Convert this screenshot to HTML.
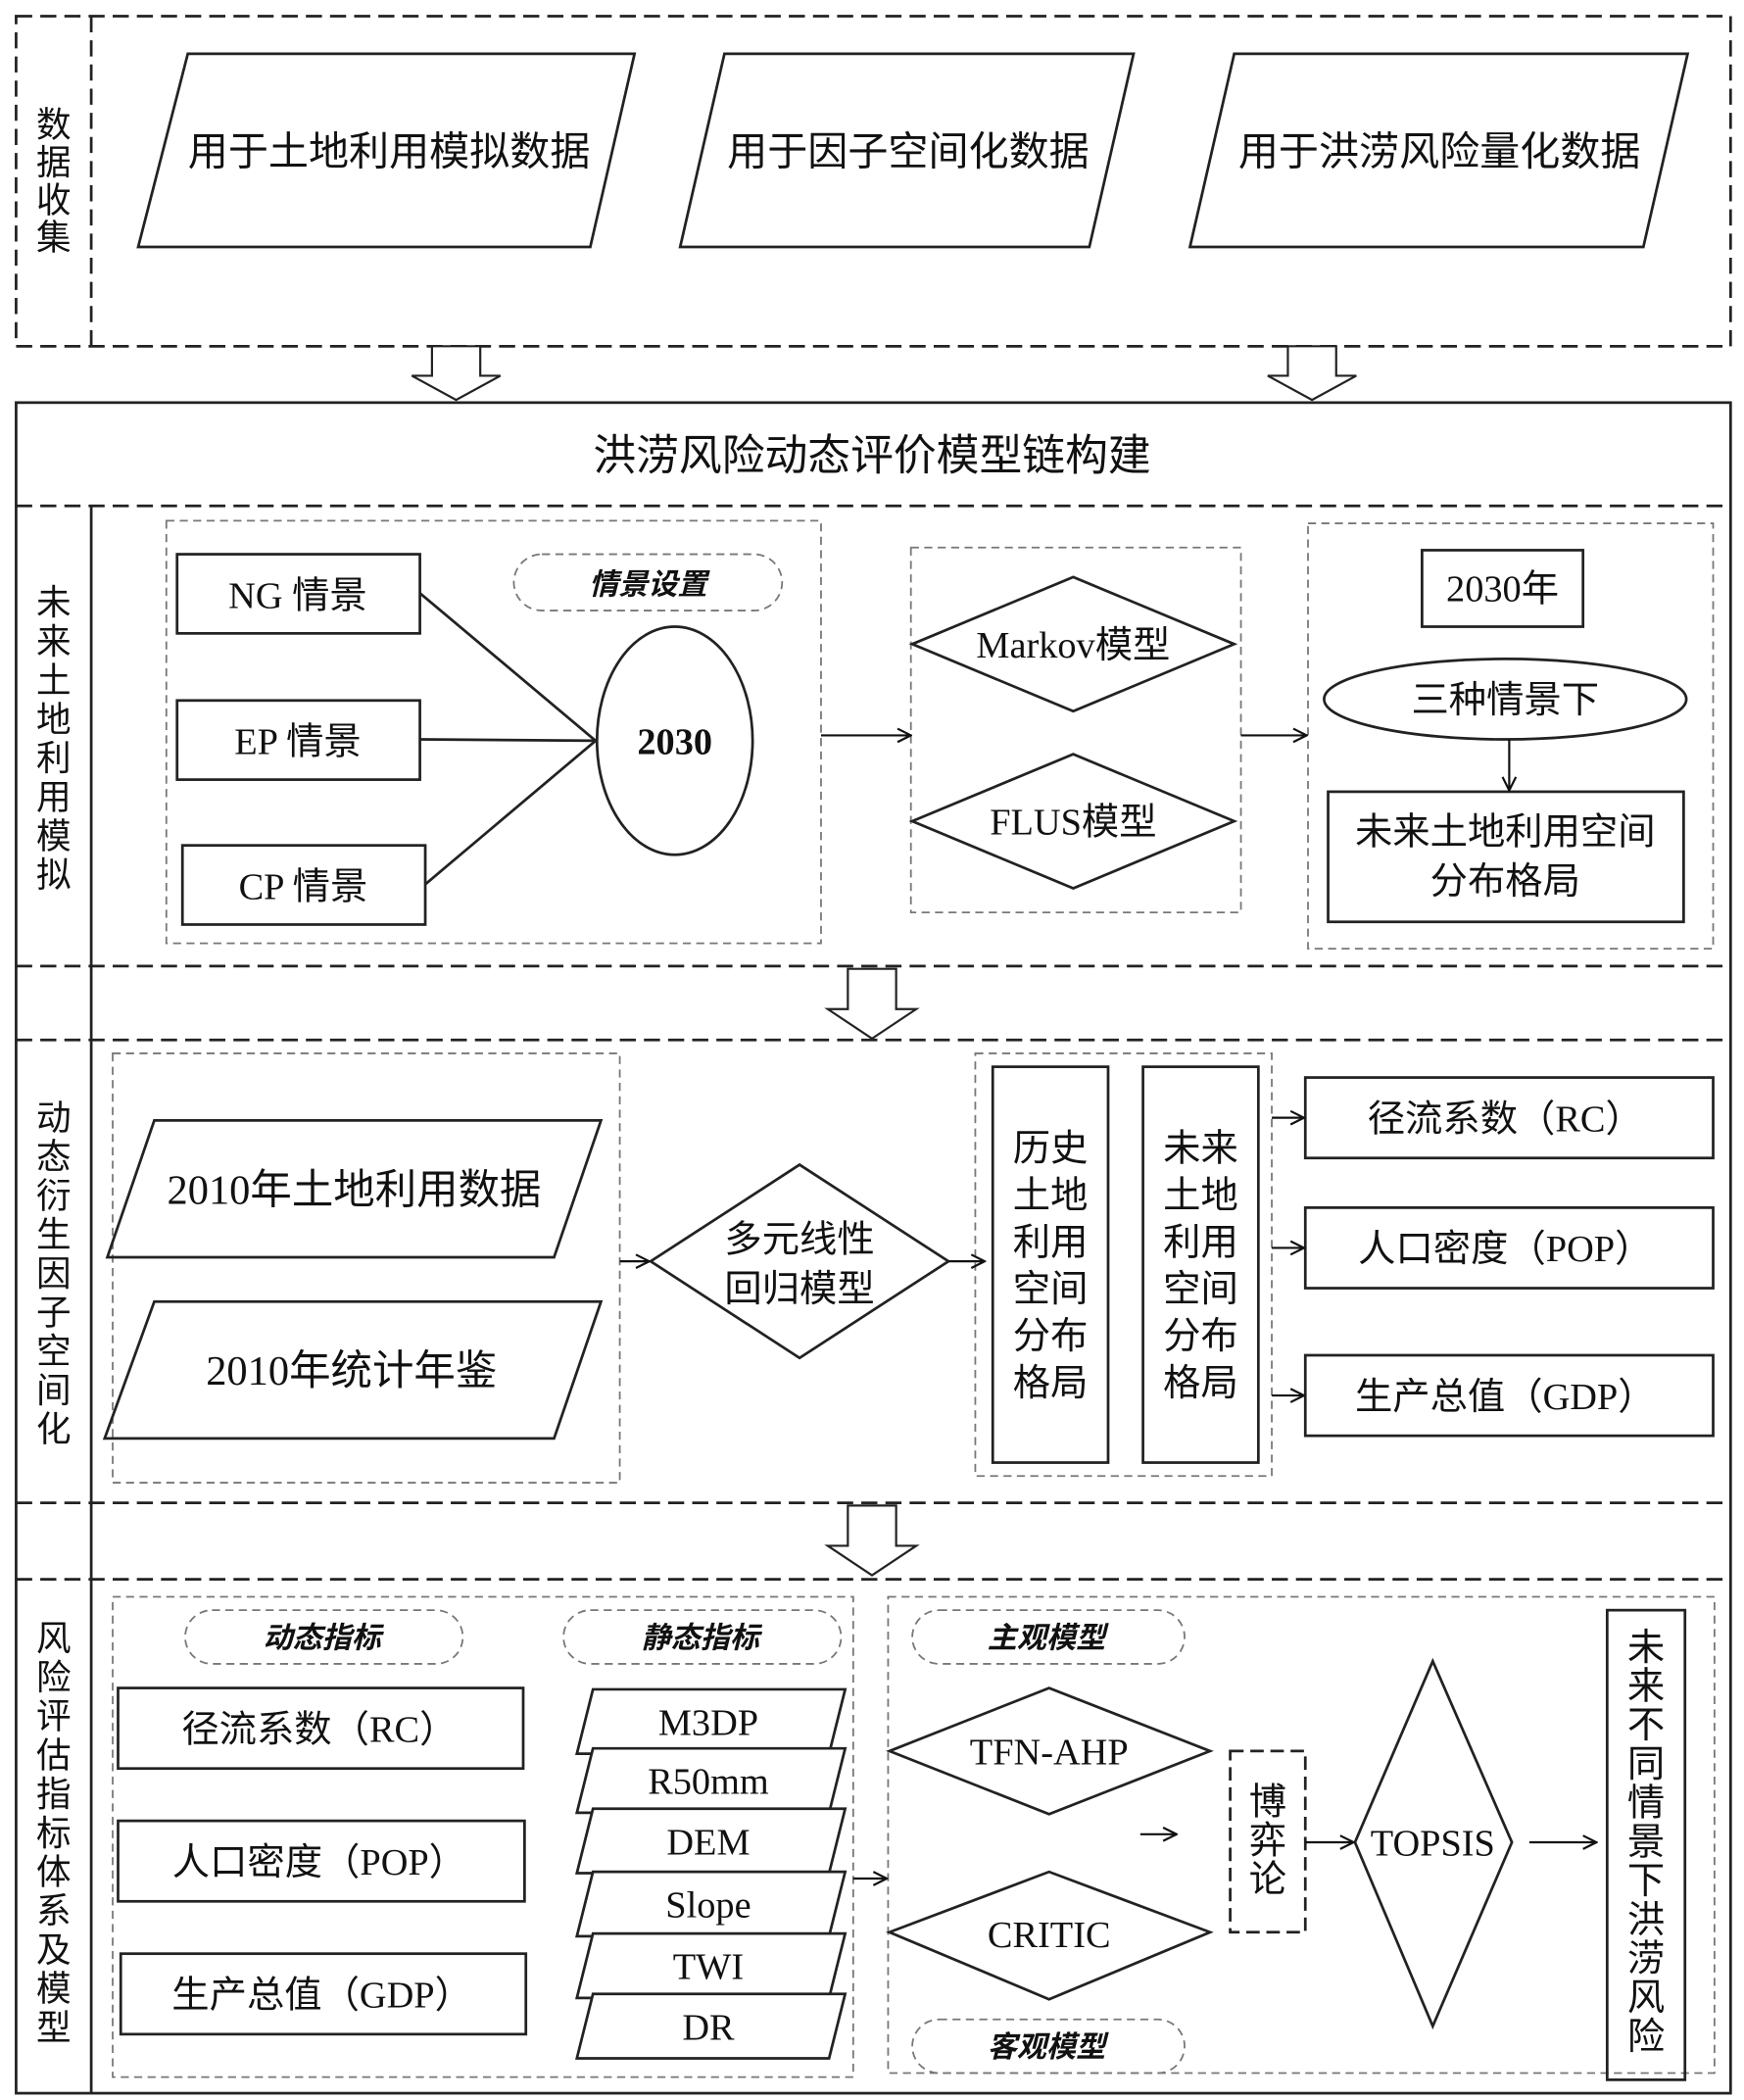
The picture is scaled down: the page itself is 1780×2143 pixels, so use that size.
<!DOCTYPE html>
<html><head><meta charset="utf-8"><style>
html,body{margin:0;padding:0;background:#fff}
svg{display:block}
text{font-family:"Liberation Serif","Noto Sans CJK SC",serif;fill:#111}
.c{font-family:"Liberation Sans","Noto Sans CJK SC",sans-serif}
</style></head><body>
<svg width="1780" height="2143" viewBox="0 0 1300 1565" xmlns="http://www.w3.org/2000/svg">
<defs>
<marker id="a" viewBox="0 0 12 12" refX="11" refY="6" markerWidth="12" markerHeight="12" markerUnits="userSpaceOnUse" orient="auto"><polyline points="1,1 11,6 1,11" fill="none" stroke="#111" stroke-width="1.6"/></marker>
</defs>
<g fill="none" stroke="#222" stroke-width="2">
<rect x="12" y="12" width="1278" height="246" stroke-dasharray="12,6"/>
<line x1="68" y1="12" x2="68" y2="258" stroke-dasharray="12,6"/>
<polygon points="140,40 473,40 440,184 103,184"/>
<polygon points="540,40 845,40 812,184 507,184"/>
<polygon points="920,40 1258,40 1225,184 887,184"/>
<rect x="12" y="300" width="1278" height="1260"/>
<line x1="68" y1="377" x2="68" y2="1560"/>
<line x1="12" y1="377" x2="1290" y2="377" stroke-dasharray="12,6"/>
<line x1="12" y1="720" x2="1290" y2="720" stroke-dasharray="12,6"/>
<line x1="12" y1="775" x2="1290" y2="775" stroke-dasharray="12,6"/>
<line x1="12" y1="1120" x2="1290" y2="1120" stroke-dasharray="12,6"/>
<line x1="12" y1="1177" x2="1290" y2="1177" stroke-dasharray="12,6"/>
</g>
<g fill="#fff" stroke="#222" stroke-width="1.6">
<path d="M322,258 h36 v22 h15 l-33,18 l-33,-18 h15 z"/>
<path d="M960,258 h36 v22 h15 l-33,18 l-33,-18 h15 z"/>
<path d="M632,722 h36 v30 h15 l-33,22 l-33,-22 h15 z"/>
<path d="M632,1122 h36 v30 h15 l-33,22 l-33,-22 h15 z"/>
</g>
<g font-size="30" text-anchor="middle">
<text x="290" y="123" class="c">用于土地利用模拟数据</text>
<text x="677" y="123" class="c">用于因子空间化数据</text>
<text x="1073" y="123" class="c">用于洪涝风险量化数据</text>
<text x="650" y="350" class="c" font-size="32">洪涝风险动态评价模型链构建</text>
</g>
<g font-size="26" text-anchor="middle">
<text x="40" y="102" class="c">数</text><text x="40" y="130" class="c">据</text><text x="40" y="158" class="c">收</text><text x="40" y="186" class="c">集</text>
<text x="40" y="458" class="c">未</text><text x="40" y="487" class="c">来</text><text x="40" y="516" class="c">土</text><text x="40" y="545" class="c">地</text><text x="40" y="574" class="c">利</text><text x="40" y="603" class="c">用</text><text x="40" y="632" class="c">模</text><text x="40" y="661" class="c">拟</text>
<text x="40" y="842" class="c">动</text><text x="40" y="871" class="c">态</text><text x="40" y="900" class="c">衍</text><text x="40" y="929" class="c">生</text><text x="40" y="958" class="c">因</text><text x="40" y="987" class="c">子</text><text x="40" y="1016" class="c">空</text><text x="40" y="1045" class="c">间</text><text x="40" y="1074" class="c">化</text>
<text x="40" y="1230" class="c">风</text><text x="40" y="1259" class="c">险</text><text x="40" y="1288" class="c">评</text><text x="40" y="1317" class="c">估</text><text x="40" y="1346" class="c">指</text><text x="40" y="1375" class="c">标</text><text x="40" y="1404" class="c">体</text><text x="40" y="1433" class="c">系</text><text x="40" y="1462" class="c">及</text><text x="40" y="1491" class="c">模</text><text x="40" y="1520" class="c">型</text>
</g>
<g fill="none" stroke="#777" stroke-width="1.3" stroke-dasharray="6,4">
<rect x="124" y="388" width="488" height="315"/>
<rect x="679" y="408" width="246" height="272"/>
<rect x="975" y="390" width="302" height="317"/>
<rect x="383" y="413" width="200" height="42" rx="21"/>
<rect x="84" y="785" width="378" height="320"/>
<rect x="727" y="785" width="221" height="315"/>
<rect x="84" y="1190" width="552" height="358"/>
<rect x="662" y="1190" width="616" height="355"/>
<rect x="138" y="1200" width="207" height="40" rx="20"/>
<rect x="420" y="1200" width="207" height="40" rx="20"/>
<rect x="680" y="1200" width="203" height="40" rx="20"/>
<rect x="680" y="1505" width="203" height="40" rx="20"/>
</g>
<g fill="none" stroke="#222" stroke-width="2">
<rect x="132" y="413" width="181" height="59"/>
<rect x="132" y="522" width="181" height="59"/>
<rect x="136" y="630" width="181" height="59"/>
<ellipse cx="503" cy="552" rx="58" ry="85"/>
<line x1="313" y1="442" x2="444" y2="552"/>
<line x1="313" y1="551" x2="444" y2="552"/>
<line x1="317" y1="659" x2="444" y2="552"/>
<polygon points="680,480 800,430 920,480 800,530"/>
<polygon points="680,612 800,562 920,612 800,662"/>
<rect x="1060" y="410" width="120" height="57"/>
<ellipse cx="1122" cy="521" rx="135" ry="30"/>
<rect x="990" y="590" width="265" height="97"/>
<polygon points="115,835 448,835 413,937 80,937"/>
<polygon points="115,970 448,970 413,1072 78,1072"/>
<polygon points="485,940 596,868 707,940 596,1012"/>
<rect x="740" y="795" width="86" height="295"/>
<rect x="852" y="795" width="86" height="295"/>
<rect x="973" y="803" width="304" height="60"/>
<rect x="973" y="900" width="304" height="60"/>
<rect x="973" y="1010" width="304" height="60"/>
<rect x="88" y="1258" width="302" height="60"/>
<rect x="88" y="1357" width="303" height="60"/>
<rect x="90" y="1456" width="302" height="60"/>
<polygon points="663,1305 782,1258 902,1305 782,1352"/>
<polygon points="663,1440 782,1395 902,1440 782,1490"/>
<polygon points="1010,1373 1068,1238 1127,1373 1068,1510"/>
<rect x="1198" y="1200" width="58" height="350"/>
<rect x="917" y="1305" width="56" height="135" stroke-dasharray="10,5"/>
</g>
<g fill="#fff" stroke="#222" stroke-width="2">
<polygon points="442,1259 630,1259 618,1307 430,1307"/>
<polygon points="442,1303 630,1303 618,1351 430,1351"/>
<polygon points="442,1348 630,1348 618,1396 430,1396"/>
<polygon points="442,1395 630,1395 618,1443 430,1443"/>
<polygon points="442,1441 630,1441 618,1489 430,1489"/>
<polygon points="442,1486 630,1486 618,1534 430,1534"/>
</g>
<g stroke="#111" stroke-width="1.6" marker-end="url(#a)">
<line x1="612" y1="548" x2="679" y2="548"/>
<line x1="925" y1="548" x2="974" y2="548"/>
<line x1="1125" y1="551" x2="1125" y2="589"/>
<line x1="462" y1="940" x2="484" y2="940"/>
<line x1="707" y1="940" x2="734" y2="940"/>
<line x1="948" y1="833" x2="972" y2="833"/>
<line x1="948" y1="930" x2="972" y2="930"/>
<line x1="948" y1="1040" x2="972" y2="1040"/>
<line x1="636" y1="1400" x2="661" y2="1400"/>
<line x1="850" y1="1367" x2="877" y2="1367"/>
<line x1="973" y1="1373" x2="1009" y2="1373"/>
<line x1="1140" y1="1373" x2="1190" y2="1373"/>
</g>
<g font-size="28" text-anchor="middle">
<text x="222" y="453">NG 情景</text>
<text x="222" y="562">EP 情景</text>
<text x="226" y="670">CP 情景</text>
<text x="503" y="562" font-weight="bold">2030</text>
<text x="483" y="443" font-size="22" font-style="italic" font-weight="bold" class="c">情景设置</text>
<text x="800" y="490">Markov模型</text>
<text x="800" y="622">FLUS模型</text>
<text x="1120" y="448">2030年</text>
<text x="1122" y="531" class="c">三种情景下</text>
<text x="1122" y="629" class="c">未来土地利用空间</text>
<text x="1122" y="666" class="c">分布格局</text>
<text x="264" y="897" font-size="31">2010年土地利用数据</text>
<text x="262" y="1032" font-size="31">2010年统计年鉴</text>
<text x="596" y="933" class="c">多元线性</text>
<text x="596" y="970" class="c">回归模型</text>
<text x="783" y="865" class="c">历史</text><text x="783" y="900" class="c">土地</text><text x="783" y="935" class="c">利用</text><text x="783" y="970" class="c">空间</text><text x="783" y="1005" class="c">分布</text><text x="783" y="1040" class="c">格局</text>
<text x="895" y="865" class="c">未来</text><text x="895" y="900" class="c">土地</text><text x="895" y="935" class="c">利用</text><text x="895" y="970" class="c">空间</text><text x="895" y="1005" class="c">分布</text><text x="895" y="1040" class="c">格局</text>
<text x="1122" y="843">径流系数（RC）</text>
<text x="1122" y="940">人口密度（POP）</text>
<text x="1122" y="1050">生产总值（GDP）</text>
<text x="240" y="1228" font-size="22" font-style="italic" font-weight="bold" class="c">动态指标</text>
<text x="522" y="1228" font-size="22" font-style="italic" font-weight="bold" class="c">静态指标</text>
<text x="780" y="1228" font-size="22" font-style="italic" font-weight="bold" class="c">主观模型</text>
<text x="780" y="1533" font-size="22" font-style="italic" font-weight="bold" class="c">客观模型</text>
<text x="238" y="1298">径流系数（RC）</text>
<text x="238" y="1397">人口密度（POP）</text>
<text x="240" y="1496">生产总值（GDP）</text>
<text x="528" y="1293">M3DP</text>
<text x="528" y="1337">R50mm</text>
<text x="528" y="1382">DEM</text>
<text x="528" y="1429">Slope</text>
<text x="528" y="1475">TWI</text>
<text x="528" y="1520">DR</text>
<text x="782" y="1315">TFN-AHP</text>
<text x="782" y="1451">CRITIC</text>
<text x="1068" y="1383">TOPSIS</text>
<text x="945" y="1352" class="c">博</text><text x="945" y="1381" class="c">弈</text><text x="945" y="1410" class="c">论</text>
<text x="1227" y="1237" class="c">未</text><text x="1227" y="1266" class="c">来</text><text x="1227" y="1295" class="c">不</text><text x="1227" y="1324" class="c">同</text><text x="1227" y="1353" class="c">情</text><text x="1227" y="1382" class="c">景</text><text x="1227" y="1411" class="c">下</text><text x="1227" y="1440" class="c">洪</text><text x="1227" y="1469" class="c">涝</text><text x="1227" y="1498" class="c">风</text><text x="1227" y="1527" class="c">险</text>
</g>
</svg>
</body></html>
